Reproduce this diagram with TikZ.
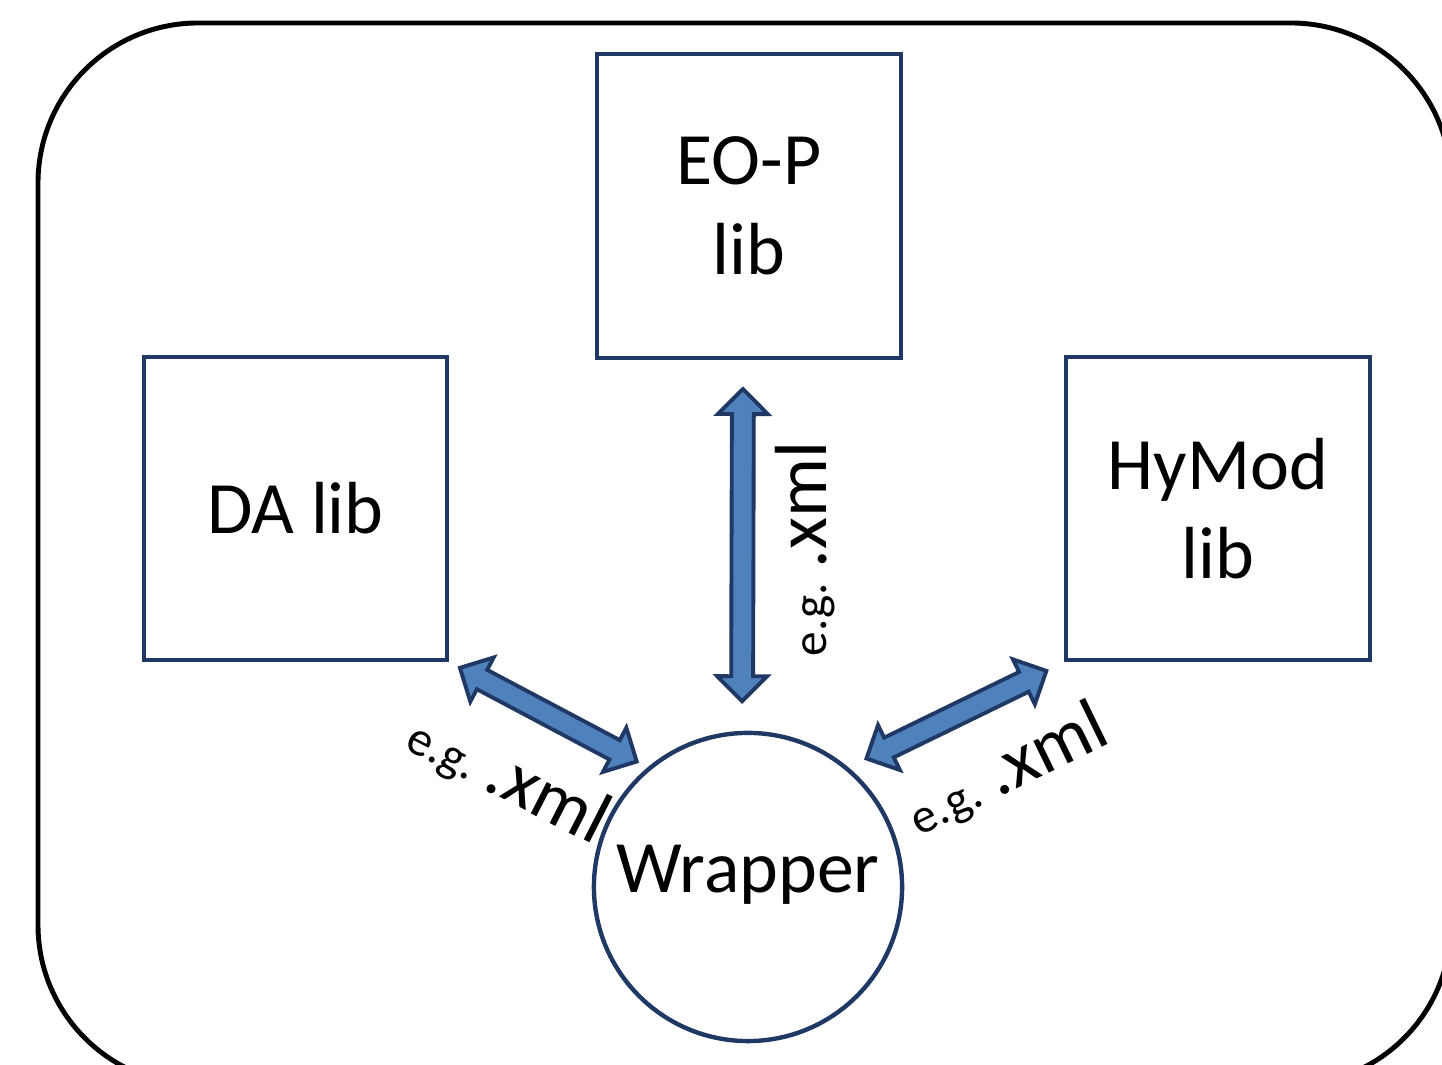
\documentclass[tikz,border=0pt]{standalone}
\usepackage{fontspec}
\setmainfont{Carlito}
\usetikzlibrary{shapes.arrows,calc}
\definecolor{BoxClr}{HTML}{1F3864}
\definecolor{ArrowClr}{HTML}{4F81BD}

\begin{document}
\begin{tikzpicture}[x=0.01cm,y=-0.01cm,
  libbox/.style={draw=BoxClr,line width=1.15pt,minimum size=3.03cm,align=center,
    font=\fontsize{21}{25.5}\selectfont},
  fatarrow/.style={double arrow,draw=BoxClr,fill=ArrowClr,line width=1.1pt,
    inner xsep=0pt,inner ysep=0.09cm,minimum width=0.5cm,double arrow head extend=0.14cm},
  xmllbl/.style={anchor=base,inner sep=0pt}]
\useasboundingbox (0,0) rectangle (1442,1065);

% frame, cut off at the right and at the bottom
\begin{scope}
\clip (0,0) rectangle (1442,1065);
\draw[line width=1.4pt,rounded corners=1.6cm] (38,23) rectangle (1451,1085);
\end{scope}

\node[libbox] (eop) at (749,206) {EO-P\\lib};
\node[libbox] (da) at (295.5,508.5) {DA lib};
\node[libbox] (hymod) at (1218,508.5) {HyMod\\lib};
\node[circle,draw=BoxClr,line width=1.25pt,minimum size=3.08cm,text depth=0.36cm,
  font=\fontsize{21}{25.5}\selectfont] (wrap) at (748,887) {Wrapper};

% exchange arrows
\path ([xshift=-0.06cm]eop.south) -- ([xshift=-0.06cm]wrap.north)
  node[midway,sloped,fatarrow,minimum height=3.12cm] (uparr) {};
\path (da.south east) -- (wrap.130)
  node[midway,sloped,fatarrow,minimum height=2cm] (leftarr) {};
\path (hymod.south west) -- (wrap.50)
  node[midway,sloped,fatarrow,minimum height=2cm] (rightarr) {};

\node[xmllbl,rotate=90] (xmlup) at (826,549)
  {\fontsize{14}{16}\selectfont e.g. \fontsize{21}{25}\selectfont.xml};
\node[xmllbl,rotate=-27] (xmlda) at (499,797)
  {\fontsize{14}{16}\selectfont e.g. \fontsize{21}{25}\selectfont.xml};
\node[xmllbl,rotate=26] (xmlhy) at (1016,789)
  {\fontsize{14}{16}\selectfont e.g. \fontsize{21}{25}\selectfont.xml};

\end{tikzpicture}
\end{document}
